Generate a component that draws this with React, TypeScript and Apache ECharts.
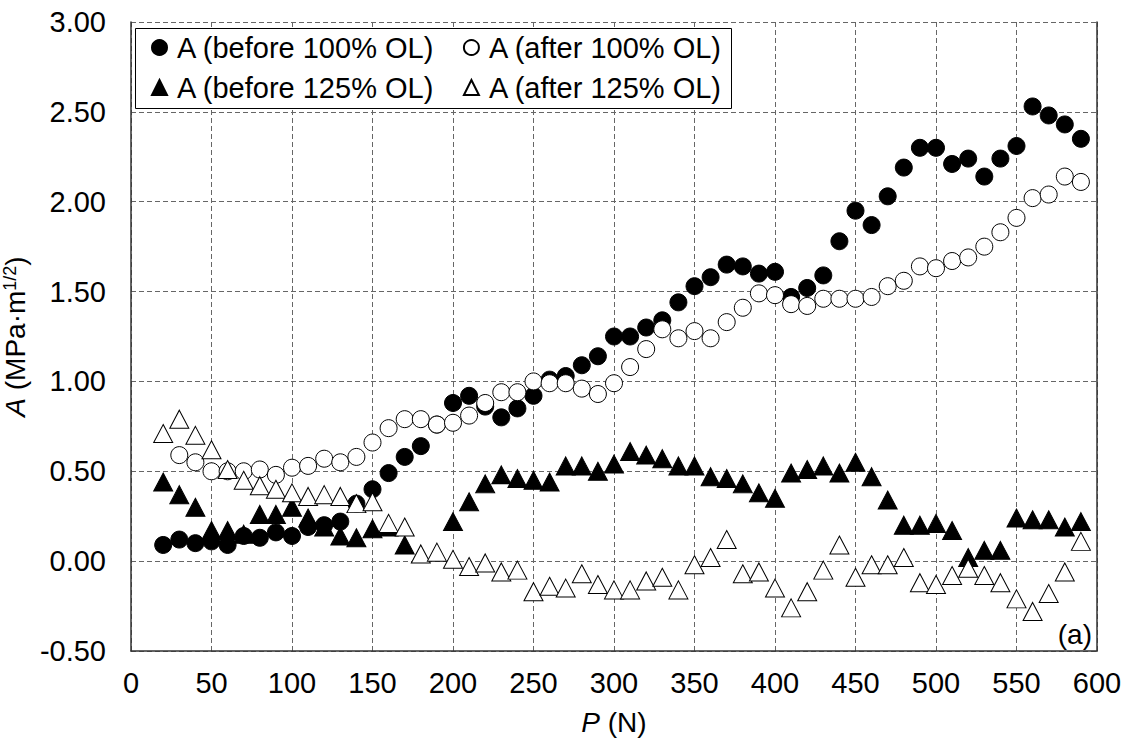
import React, { useEffect, useRef } from "react";
import * as echarts from "echarts";

const P = [20, 30, 40, 50, 60, 70, 80, 90, 100, 110,
  120, 130, 140, 150, 160, 170, 180, 190, 200, 210,
  220, 230, 240, 250, 260, 270, 280, 290, 300, 310,
  320, 330, 340, 350, 360, 370, 380, 390, 400, 410,
  420, 430, 440, 450, 460, 470, 480, 490, 500, 510,
  520, 530, 540, 550, 560, 570, 580, 590];

const before100 = [0.09, 0.12, 0.10, 0.11, 0.09, 0.14, 0.13, 0.16, 0.14, 0.19,
  0.20, 0.22, 0.32, 0.40, 0.49, 0.58, 0.64, 0.76, 0.88, 0.92,
  0.86, 0.80, 0.85, 0.92, 1.01, 1.03, 1.09, 1.14, 1.25, 1.25,
  1.30, 1.34, 1.44, 1.53, 1.58, 1.65, 1.64, 1.60, 1.61, 1.47,
  1.52, 1.59, 1.78, 1.95, 1.87, 2.03, 2.19, 2.30, 2.30, 2.21,
  2.24, 2.14, 2.24, 2.31, 2.53, 2.48, 2.43, 2.35];

const after100 = [null, 0.59, 0.55, 0.50, 0.50, 0.50, 0.51, 0.48, 0.52, 0.53,
  0.57, 0.55, 0.58, 0.66, 0.74, 0.79, 0.79, 0.76, 0.77, 0.81,
  0.88, 0.94, 0.94, 1.00, 0.99, 0.99, 0.96, 0.93, 0.99, 1.08,
  1.18, 1.29, 1.24, 1.28, 1.24, 1.33, 1.41, 1.49, 1.48, 1.43,
  1.42, 1.46, 1.46, 1.46, 1.47, 1.53, 1.56, 1.64, 1.63, 1.67,
  1.69, 1.75, 1.83, 1.91, 2.02, 2.04, 2.14, 2.11];

const before125 = [0.44, 0.37, 0.30, 0.17, 0.17, 0.15, 0.26, 0.26, 0.30, 0.24,
  0.19, 0.14, 0.13, 0.18, 0.19, 0.09, null, null, 0.22, 0.33,
  0.43, 0.48, 0.46, 0.45, 0.44, 0.53, 0.53, 0.50, 0.54, 0.61,
  0.59, 0.57, 0.53, 0.53, 0.47, 0.46, 0.43, 0.38, 0.35, 0.49,
  0.51, 0.53, 0.49, 0.55, 0.47, 0.34, 0.20, 0.20, 0.21, 0.17,
  0.02, 0.06, 0.06, 0.24, 0.23, 0.23, 0.19, 0.22];

const after125 = [0.71, 0.79, 0.70, 0.62, 0.51, 0.45, 0.42, 0.40, 0.38, 0.36,
  0.37, 0.36, 0.32, 0.33, 0.21, 0.19, 0.04, 0.05, 0.01, -0.03,
  -0.01, -0.06, -0.05, -0.17, -0.14, -0.15, -0.07, -0.13, -0.16, -0.16,
  -0.11, -0.09, -0.16, -0.02, 0.02, 0.12, -0.07, -0.06, -0.15, -0.26,
  -0.17, -0.05, 0.09, -0.09, -0.02, -0.02, 0.02, -0.12, -0.13, -0.08,
  -0.04, -0.08, -0.12, -0.21, -0.28, -0.18, -0.06, 0.11];

const NAMES = [
  "A (before 100% OL)",
  "A (after 100% OL)",
  "A (before 125% OL)",
  "A (after 125% OL)",
];

const FONT = "Liberation Sans, Arial, sans-serif";
const FS = 29;
const NFS = 28;

function pairs(vals: (number | null)[]) {
  const out: [number, number][] = [];
  vals.forEach((v, i) => {
    if (v !== null) out.push([P[i], v]);
  });
  return out;
}

export default function App() {
  const ref = useRef<HTMLDivElement>(null);
  useEffect(() => {
    if (!ref.current) return;
    const chart = echarts.init(ref.current, null, { renderer: "svg" });
    const circ = 17;
    const tri: [number, number] = [19, 18];
    const filled = { color: "#000", borderColor: "#000", borderWidth: 1, opacity: 1 };
    const open = { color: "#fff", borderColor: "#000", borderWidth: 1, opacity: 1 };
    const legendCommon = {
      left: 151,
      orient: "horizontal" as const,
      itemWidth: 15,
      itemHeight: 15,
      itemGap: 28,
      padding: 0,
      z: 10,
      textStyle: { fontFamily: FONT, fontSize: FS, color: "#000", padding: [0, 0, 0, 5] },
    };
    chart.setOption({
      animation: false,
      backgroundColor: "#fff",
      textStyle: { fontFamily: FONT },
      grid: { left: 131, right: 34, top: 22, bottom: 94, containLabel: false, outerBoundsMode: "none" },
      legend: [
        { ...legendCommon, top: 33, data: [NAMES[0], NAMES[1]] },
        { ...legendCommon, top: 73, data: [NAMES[2], NAMES[3]] },
      ],
      graphic: [
        {
          type: "rect",
          z: 5,
          shape: { x: 135.5, y: 28.5, width: 596, height: 80 },
          style: { fill: "#fff", stroke: "#000", lineWidth: 1 },
        },
        {
          type: "text",
          z: 5,
          x: 1092,
          y: 648,
          style: {
            text: "(a)",
            fontFamily: FONT,
            fontSize: NFS,
            fill: "#000",
            textAlign: "right",
            textVerticalAlign: "bottom",
          },
        },
      ],
      xAxis: {
        type: "value",
        min: 0,
        max: 600,
        interval: 50,
        name: "{i|P} (N)",
        nameLocation: "middle",
        nameGap: 57,
        nameTextStyle: {
          fontFamily: FONT,
          fontSize: NFS,
          color: "#000",
          rich: { i: { fontStyle: "italic", fontFamily: FONT, fontSize: NFS, color: "#000" } },
        },
        axisLine: { show: true, onZero: false, lineStyle: { color: "#333", width: 1.5 } },
        axisTick: { show: false },
        axisLabel: { fontFamily: FONT, fontSize: FS, color: "#000", margin: 17 },
        splitLine: { show: true, lineStyle: { color: "#666", type: [5, 3], width: 1 } },
      },
      yAxis: [
        {
          type: "value",
          min: -0.5,
          max: 3,
          interval: 0.5,
          name: "{i|A} (MPa·m{sup|1/2})",
          nameLocation: "middle",
          nameGap: 82,
          nameRotate: 90,
          nameTextStyle: {
            fontFamily: FONT,
            fontSize: NFS,
            color: "#000",
            rich: {
              i: { fontStyle: "italic", fontFamily: FONT, fontSize: NFS, color: "#000" },
              sup: { fontFamily: FONT, fontSize: 18, color: "#000", padding: [0, 0, 10, 0] },
            },
          },
          axisLine: { show: true, onZero: false, lineStyle: { color: "#333", width: 1.5 } },
          axisTick: { show: false },
          axisLabel: {
            fontFamily: FONT,
            fontSize: FS,
            color: "#000",
            margin: 25,
            formatter: (v: number) => v.toFixed(2),
          },
          splitLine: { show: true, lineStyle: { color: "#666", type: [5, 3], width: 1 } },
        },
        {
          type: "value",
          min: -0.5,
          max: 3,
          interval: 0.5,
          position: "right",
          axisLine: { show: true, onZero: false, lineStyle: { color: "#333", width: 1.5 } },
          axisTick: { show: false },
          axisLabel: { show: false },
          splitLine: { show: false },
        },
      ],
      series: [
        { name: NAMES[0], type: "scatter", symbol: "circle", symbolSize: circ, itemStyle: filled, data: pairs(before100), z: 2 },
        { name: NAMES[1], type: "scatter", symbol: "circle", symbolSize: circ, itemStyle: open, data: pairs(after100), z: 3 },
        { name: NAMES[2], type: "scatter", symbol: "triangle", symbolSize: tri, itemStyle: filled, data: pairs(before125), z: 3 },
        { name: NAMES[3], type: "scatter", symbol: "triangle", symbolSize: tri, itemStyle: open, data: pairs(after125), z: 4 },
      ],
    });
    return () => chart.dispose();
  }, []);
  return <div ref={ref} style={{ width: 1131, height: 745, position: "absolute", left: 0, top: 0 }} />;
}
